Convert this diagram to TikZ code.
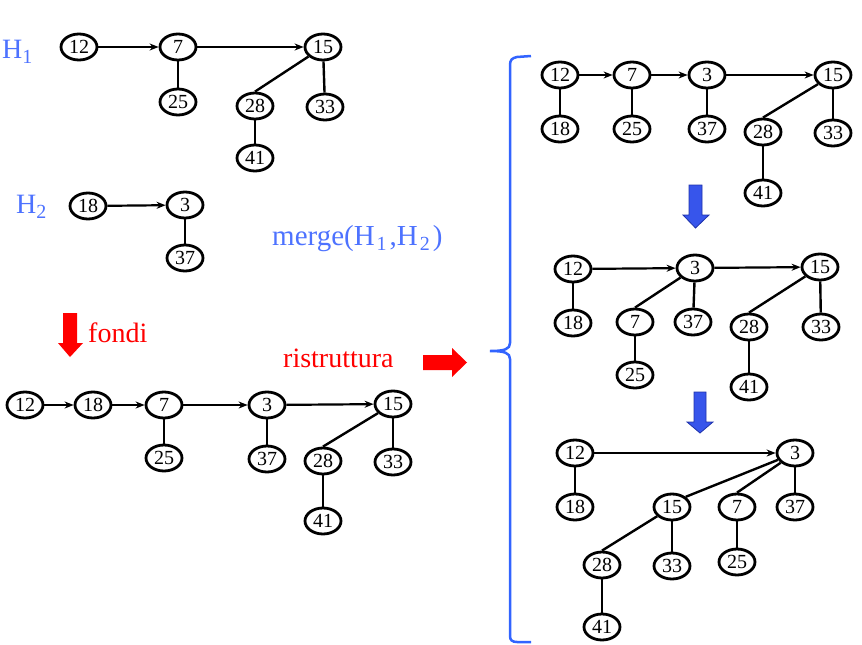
\documentclass[tikz,border=0pt]{standalone}
\usepackage{fontspec}
\setmainfont{Liberation Serif}
\usetikzlibrary{shapes.geometric,arrows.meta}
\definecolor{hblue}{RGB}{77,114,255}
\definecolor{braceblue}{RGB}{50,100,255}
\definecolor{arrfill}{RGB}{55,85,235}
\definecolor{arrline}{RGB}{30,50,170}
\definecolor{hred}{RGB}{255,0,0}
\newcommand\hsubx[1]{\raisebox{-5pt}{\fontsize{20}{20}\selectfont #1}}
\tikzset{
  hn/.style={ellipse, draw, line width=2.8pt, minimum width=36pt, minimum height=26pt,
    inner sep=0pt, font=\fontsize{20}{20}\selectfont},
  tedge/.style={line width=2.4pt},
  link/.style={line width=2.2pt, -{Stealth[length=9pt,width=7pt]}},
  blabel/.style={text=hblue, font=\fontsize{28}{28}\selectfont, inner sep=0pt},
  rlabel/.style={text=hred, font=\fontsize{28}{28}\selectfont, inner sep=0pt},
  bluearrow/.style={fill=arrfill, draw=arrline, line width=0.8pt},
  redarrow/.style={fill=hred},
}
\begin{document}
\begin{tikzpicture}[x=1pt,y=-1pt]
\useasboundingbox (0,0) rectangle (862,645);
% labels
\node[blabel, anchor=base west] (lh1) at (2,58) {H\hsubx{1}};
\node[blabel, anchor=base west] (lh2) at (16,213) {H\hsubx{2}};
\node[blabel, anchor=base west, font=\fontsize{29}{29}\selectfont] (lmerge) at (272,245) {merge(H\kern2pt\hsubx{1}\kern3pt,H\kern2pt\hsubx{2}\kern3pt)};
\node[rlabel, anchor=base west] (lfondi) at (88,342) {fondi};
\node[rlabel, anchor=base west] (lrist) at (283,367) {ristruttura};
% H1
\node[hn] (a12) at (79,47) {12};
\node[hn] (a7) at (178,47) {7};
\node[hn] (a15) at (323,47) {15};
\node[hn] (a25) at (178,102) {25};
\node[hn] (a28) at (255,106) {28};
\node[hn] (a33) at (325,107) {33};
\node[hn] (a41) at (255,158) {41};
\draw[link] (a12) -- (a7);
\draw[link] (a7) -- (a15);
\draw[tedge] (a7) -- (a25);
\draw[tedge] (a15) -- (a28.north);
\draw[tedge] (a15) -- (a33);
\draw[tedge] (a28) -- (a41);
% H2
\node[hn] (b18) at (88,206) {18};
\node[hn] (b3) at (185,205) {3};
\node[hn] (b37) at (185,258) {37};
\draw[link] (b18) -- (b3);
\draw[tedge] (b3) -- (b37);
% fused list
\node[hn] (c12) at (25,405) {12};
\node[hn] (c18) at (93,405) {18};
\node[hn] (c7) at (164,405) {7};
\node[hn] (c3) at (267,405) {3};
\node[hn] (c15) at (393,404) {15};
\node[hn] (c25) at (164,458) {25};
\node[hn] (c37) at (267,459) {37};
\node[hn] (c28) at (323,461) {28};
\node[hn] (c33) at (393,462) {33};
\node[hn] (c41) at (323,521) {41};
\draw[link] (c12) -- (c18);
\draw[link] (c18) -- (c7);
\draw[link] (c7) -- (c3);
\draw[link] (c3) -- (c15);
\draw[tedge] (c7) -- (c25);
\draw[tedge] (c3) -- (c37);
\draw[tedge] (c15) -- (c28.north);
\draw[tedge] (c15) -- (c33);
\draw[tedge] (c28) -- (c41);
% right top
\node[hn] (d12) at (560,75) {12};
\node[hn] (d7) at (632,75) {7};
\node[hn] (d3) at (707,75) {3};
\node[hn] (d15) at (833,75) {15};
\node[hn] (d18) at (560,129) {18};
\node[hn] (d25) at (632,129) {25};
\node[hn] (d37) at (707,129) {37};
\node[hn] (d28) at (763,132) {28};
\node[hn] (d33) at (833,133) {33};
\node[hn] (d41) at (763,193) {41};
\draw[link] (d12) -- (d7);
\draw[link] (d7) -- (d3);
\draw[link] (d3) -- (d15);
\draw[tedge] (d12) -- (d18);
\draw[tedge] (d7) -- (d25);
\draw[tedge] (d3) -- (d37);
\draw[tedge] (d15) -- (d28.north);
\draw[tedge] (d15) -- (d33);
\draw[tedge] (d28) -- (d41);
% right middle
\node[hn] (e12) at (573,269) {12};
\node[hn] (e3) at (695,268) {3};
\node[hn] (e15) at (820,267) {15};
\node[hn] (e18) at (573,323) {18};
\node[hn] (e7) at (635,322) {7};
\node[hn] (e37) at (693,322) {37};
\node[hn] (e28) at (749,327) {28};
\node[hn] (e33) at (821,327) {33};
\node[hn] (e25) at (635,375) {25};
\node[hn] (e41) at (749,387) {41};
\draw[link] (e12) -- (e3);
\draw[link] (e3) -- (e15);
\draw[tedge] (e12) -- (e18);
\draw[tedge] (e3) -- (e7.north);
\draw[tedge] (e3) -- (e37);
\draw[tedge] (e15) -- (e28.north);
\draw[tedge] (e15) -- (e33);
\draw[tedge] (e7) -- (e25);
\draw[tedge] (e28) -- (e41);
% right bottom
\node[hn] (f12) at (575,453) {12};
\node[hn] (f3) at (795,453) {3};
\node[hn] (f18) at (575,507) {18};
\node[hn] (f15) at (672,507) {15};
\node[hn] (f7) at (737,507) {7};
\node[hn] (f37) at (795,507) {37};
\node[hn] (f28) at (602,565) {28};
\node[hn] (f33) at (672,566) {33};
\node[hn] (f25) at (737,562) {25};
\node[hn] (f41) at (602,627) {41};
\draw[link] (f12) -- (f3);
\draw[tedge] (f12) -- (f18);
\draw[tedge] (f3) -- (f15.north east);
\draw[tedge] (f3) -- (f7.north);
\draw[tedge] (f3) -- (f37);
\draw[tedge] (f15) -- (f28.north);
\draw[tedge] (f15) -- (f33);
\draw[tedge] (f7) -- (f25);
\draw[tedge] (f28) -- (f41);
% big arrows
\fill[redarrow] (63,313) -- (77,313) -- (77,343) -- (83,343) -- (70,357) -- (58,343) -- (63,343) -- cycle;
\fill[redarrow] (423,355) -- (452,355) -- (452,348) -- (467,362.5) -- (452,377) -- (452,370) -- (423,370) -- cycle;
\draw[bluearrow] (689,185) -- (702,185) -- (702,215) -- (709,215) -- (695.5,228) -- (683,215) -- (689,215) -- cycle;
\draw[bluearrow] (694,392) -- (706,392) -- (706,422) -- (713,422) -- (700,433) -- (687,422) -- (694,422) -- cycle;
% brace
\draw[braceblue, line width=2.5pt] (531,56) -- (517,57) .. controls (512,58) and (510,60) .. (510,65)
  -- (510,343) .. controls (510,349) and (505,351) .. (490,351)
  .. controls (505,351) and (510,353) .. (510,359)
  -- (510,636) .. controls (510,640) and (512,642) .. (517,642) -- (531,642);
\end{tikzpicture}
\end{document}
